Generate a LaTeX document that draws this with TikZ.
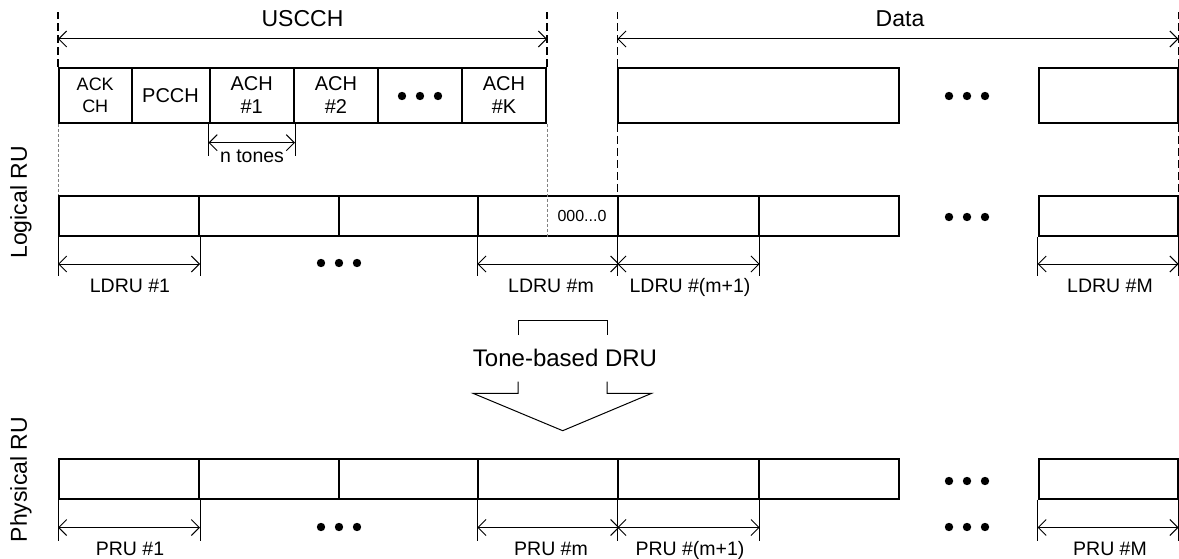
\documentclass[tikz,border=0pt]{standalone}
\usepackage{fontspec}
\setmainfont{Liberation Sans}
\usetikzlibrary{arrows.meta}
\begin{document}
\begin{tikzpicture}[x=1pt,y=-1pt,
  cell/.style={draw,line width=2pt,inner sep=0pt,align=center,minimum height=#1},
  dim/.style={line width=1pt,{Straight Barb[length=8pt,width=16pt]}-{Straight Barb[length=8pt,width=16pt]}},
  tick/.style={line width=1pt},
  guide/.style={line width=1.3pt,dash pattern=on 8pt off 4pt},
  fine/.style={line width=1pt,gray,dash pattern=on 3pt off 2pt},
  lbl/.style={font=\fontsize{19.5}{22}\selectfont},
  big/.style={font=\fontsize{23}{27}\selectfont},
  celltxt/.style={font=\fontsize{20}{23}\selectfont}]
\useasboundingbox (0,0) rectangle (1179,559);
% side labels
\node[big,rotate=90,anchor=base] (logical) at (27,202.5) {Logical RU};
\node[big,rotate=90,anchor=base] (physical) at (27,479.5) {Physical RU};
% top row: USCCH and data
\node[cell=55pt,minimum width=72.5pt,font=\fontsize{18}{22}\selectfont] (ackch) at (95.25,95.5) {ACK\\CH};
\node[cell=55pt,minimum width=78pt,celltxt] (pcch) at (170.5,95.5) {PCCH};
\node[cell=55pt,minimum width=84.5pt,celltxt] (ach1) at (251.75,95.5) {ACH\\\#1};
\node[cell=55pt,minimum width=84pt,celltxt] (ach2) at (336,95.5) {ACH\\\#2};
\node[cell=55pt,minimum width=84pt] (achdots) at (420,95.5) {};
\node[cell=55pt,minimum width=84pt,celltxt] (achk) at (504,95.5) {ACH\\\#K};
\node[cell=55pt,minimum width=280.7pt] (data1) at (758.65,95.5) {};
\node[cell=55pt,minimum width=139pt] (dataM) at (1108,95.5) {};
% logical and physical rows
\foreach \a/\b [count=\i] in {59/199,199/338.7,338.7/478.3,478.3/618.3,618.3/758.7,758.7/899,1038.5/1177.5}{
  \node[cell=39.5pt,minimum width={\b-\a}] (l\i) at ({(\a+\b)/2},216.25) {};
  \node[cell=39.5pt,minimum width={\b-\a}] (p\i) at ({(\a+\b)/2},478.75) {};
}
\node[font=\fontsize{16}{19}\selectfont] (zeros) at (582,216) {000...0};
% guides
\foreach \n in {ackch.north west,achk.north east,data1.north west,dataM.north east}
  \draw[guide] (\n) -- ++(0,-55.3);
\draw[guide] (data1.south west) -- (l5.north west);
\draw[guide] (dataM.south east) -- (l7.north east);
\draw[fine] (ackch.south west) -- (l1.north west);
\draw[fine] (achk.south east) -- (achk.south east |- l4.south);
% USCCH / data spans
\draw[dim] ([yshift=28pt]ackch.north west) -- ([yshift=28pt]achk.north east);
\draw[dim] ([yshift=28pt]data1.north west) -- ([yshift=28pt]dataM.north east);
\node[big,anchor=base] (uscch) at (302.5,27) {USCCH};
\node[big,anchor=base] (data) at (900,27) {Data};
% n tones
\foreach \n in {ach1.south west,ach1.south east}
  \draw[tick] (\n) -- ++(0,32);
\draw[dim] ([yshift=-18.7pt]ach1.south west) -- ([yshift=-18.7pt]ach1.south east);
\node[lbl,anchor=base] (ntones) at (252,163) {n tones};
% LDRU spans
\foreach \n in {l1.south west,l1.south east,l4.south west,l5.south west,l5.south east,l7.south west,l7.south east}
  \draw[tick] (\n) -- ++(0,39);
\foreach \i in {1,4,5,7}
  \draw[dim] ([yshift=-27pt]l\i.south west) -- ([yshift=-27pt]l\i.south east);
\node[lbl,anchor=base] (ldru1) at (130,292) {LDRU \#1};
\node[lbl,anchor=base] (ldrum) at (551,292) {LDRU \#m};
\node[lbl,anchor=base] (ldrum1) at (690,292) {LDRU \#(m+1)};
\node[lbl,anchor=base] (ldruM) at (1110,292) {LDRU \#M};
% tone-based DRU arrow
\node[font=\fontsize{24}{28}\selectfont] (tone) at (565,358) {Tone-based DRU};
\draw[tick] (518,335) -- (518,320) -- (607,320) -- (607,335);
\draw[tick] (518,381.7) -- (518,393.3) -- (473,393.3) -- (562.7,430.7) -- (651.7,393.3) -- (607,393.3) -- (607,381.7);
% PRU spans
\foreach \n in {p1.south west,p1.south east,p4.south west,p5.south west,p5.south east,p7.south west,p7.south east}
  \draw[tick] (\n) -- ++(0,41.5);
\foreach \i in {1,4,5,7}
  \draw[dim] ([yshift=-28pt]p\i.south west) -- ([yshift=-28pt]p\i.south east);
\node[lbl,anchor=base] (pru1) at (130,555) {PRU \#1};
\node[lbl,anchor=base] (prum) at (551,555) {PRU \#m};
\node[lbl,anchor=base] (prum1) at (690,555) {PRU \#(m+1)};
\node[lbl,anchor=base] (pruM) at (1110,555) {PRU \#M};
% dots
\foreach \cx/\cy in {420/96,967/96,339/263,967/217,967/481,339/527,967/527}
  \foreach \d in {-18,0,18}
    \fill (\cx+\d,\cy) circle (4.2pt);
\end{tikzpicture}
\end{document}
